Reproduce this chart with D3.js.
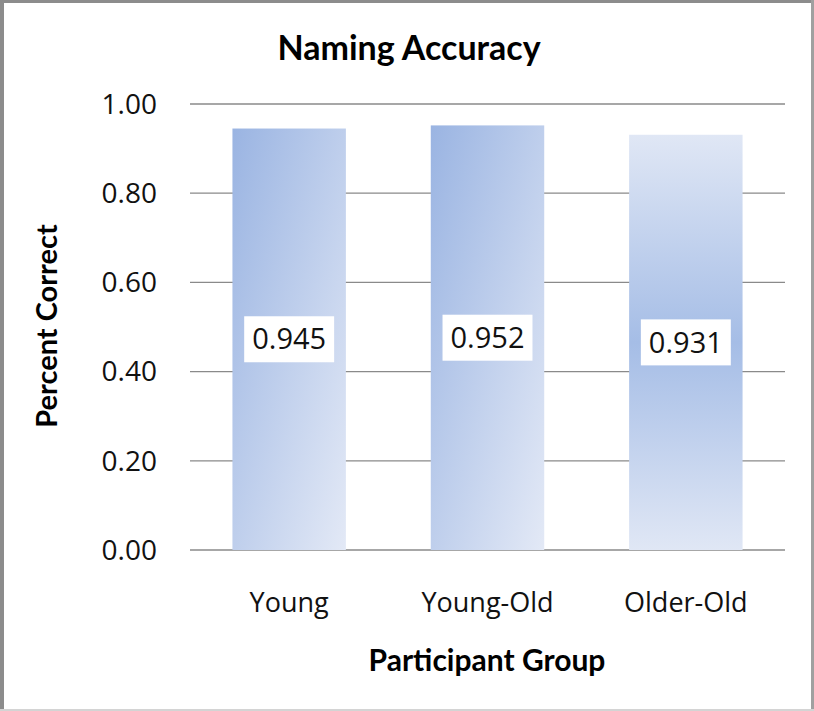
<!DOCTYPE html>
<html lang="en">
<head>
  <meta charset="UTF-8">
  <title>Naming Accuracy</title>
  <script src="https://d3js.org/d3.v7.min.js"></script>
  <style>
    body { margin: 0; background: #fff; }
    svg { display: block; }
    .tick-label { font-family: "Open Sans", sans-serif; font-size: 28px; fill: #111; }
    .cat-label { font-family: "Open Sans", sans-serif; font-size: 27px; fill: #111; }
    .axis-title { font-family: Lato, sans-serif; font-weight: bold; fill: #000; }
    .val-label { font-family: "Open Sans", sans-serif; font-size: 29px; fill: #111; }
  </style>
</head>
<body>
<svg width="814" height="711"></svg>
<script>
// chart data
const groups = ["Young", "Young-Old", "Older-Old"];
const accuracy = [0.945, 0.952, 0.931];
const yTicks = [0, 0.2, 0.4, 0.6, 0.8, 1.0];
const fillStyle = ["diag", "diag", "mid"];

const W = 814, H = 711;
const svg = d3.select("svg");

const x = d3.scaleBand()
  .domain(groups)
  .range([190, 785])
  .paddingInner(0.428)
  .paddingOuter(0.214);

const y = d3.scaleLinear()
  .domain([0, 1])
  .range([550, 104]);

// gradients
const defs = svg.append("defs");
const diag = defs.append("linearGradient")
  .attr("id", "g-diag")
  .attr("x1", 0).attr("y1", 0).attr("x2", 1).attr("y2", 1);
diag.append("stop").attr("offset", "0%").attr("stop-color", "#9ab4e2");
diag.append("stop").attr("offset", "100%").attr("stop-color", "#e3e9f6");

const mid = defs.append("linearGradient")
  .attr("id", "g-mid")
  .attr("x1", 0).attr("y1", 0).attr("x2", 0).attr("y2", 1);
mid.append("stop").attr("offset", "0%").attr("stop-color", "#e0e7f5");
mid.append("stop").attr("offset", "50%").attr("stop-color", "#a5bde6");
mid.append("stop").attr("offset", "100%").attr("stop-color", "#e0e7f5");

svg.append("rect").attr("width", W).attr("height", H).attr("fill", "#fff");

// gridlines
svg.append("g")
  .selectAll("line")
  .data(yTicks)
  .join("line")
  .attr("x1", 190).attr("x2", 785)
  .attr("y1", d => y(d)).attr("y2", d => y(d))
  .attr("stroke", "#8a8a8a")
  .attr("stroke-width", 1.3);

// y tick labels
svg.append("g")
  .selectAll("text")
  .data(yTicks)
  .join("text")
  .attr("class", "tick-label")
  .attr("x", 157)
  .attr("y", d => y(d))
  .attr("dy", "0.35em")
  .attr("text-anchor", "end")
  .text(d => d.toFixed(2));

// bars
svg.append("g")
  .selectAll("rect")
  .data(groups)
  .join("rect")
  .attr("x", d => x(d))
  .attr("width", x.bandwidth())
  .attr("y", (d, i) => y(accuracy[i]))
  .attr("height", (d, i) => y(0) - y(accuracy[i]))
  .attr("fill", (d, i) => fillStyle[i] === "mid" ? "url(#g-mid)" : "url(#g-diag)");

// value labels in white boxes
const lab = svg.append("g")
  .selectAll("g")
  .data(groups)
  .join("g")
  .attr("transform", (d, i) => `translate(${x(d) + x.bandwidth() / 2},${(y(accuracy[i]) + y(0)) / 2})`);

lab.append("rect").attr("fill", "#fff");
lab.append("text")
  .attr("class", "val-label")
  .attr("text-anchor", "middle")
  .attr("dy", "0.35em")
  .text((d, i) => accuracy[i].toFixed(3));
lab.each(function () {
  const g = d3.select(this);
  const bb = g.select("text").node().getBBox();
  g.select("rect")
    .attr("x", bb.x - 8)
    .attr("y", -23)
    .attr("width", bb.width + 16)
    .attr("height", 46);
});

// category labels
svg.append("g")
  .selectAll("text")
  .data(groups)
  .join("text")
  .attr("class", "cat-label")
  .attr("x", d => x(d) + x.bandwidth() / 2)
  .attr("y", 612)
  .attr("text-anchor", "middle")
  .text(d => d);

// titles
svg.append("text")
  .attr("class", "axis-title")
  .attr("x", 409).attr("y", 60)
  .attr("text-anchor", "middle")
  .style("font-size", "34px")
  .text("Naming Accuracy");

svg.append("text")
  .attr("class", "axis-title")
  .attr("x", 487).attr("y", 671)
  .attr("text-anchor", "middle")
  .style("font-size", "30px")
  .text("Participant Group");

svg.append("text")
  .attr("class", "axis-title")
  .attr("transform", "translate(57,326) rotate(-90)")
  .attr("text-anchor", "middle")
  .style("font-size", "29px")
  .text("Percent Correct");

// border
svg.append("rect").attr("x", 0).attr("y", 0).attr("width", 4).attr("height", H).attr("fill", "#8c8c8c");
svg.append("rect").attr("x", 0).attr("y", 0).attr("width", W).attr("height", 3).attr("fill", "#8c8c8c");
svg.append("rect").attr("x", W - 3).attr("y", 0).attr("width", 3).attr("height", H).attr("fill", "#a0a0a0");
svg.append("rect").attr("x", 0).attr("y", H - 2).attr("width", W).attr("height", 2).attr("fill", "#d4d4d4");
</script>
</body>
</html>
